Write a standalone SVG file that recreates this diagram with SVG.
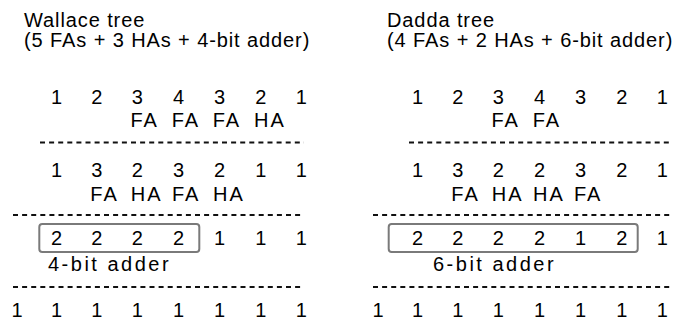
<svg xmlns="http://www.w3.org/2000/svg" width="674" height="322" viewBox="0 0 674 322">
  <style>
    text { font-family: "Liberation Sans", Arial, Helvetica, sans-serif; font-size: 20px; fill: #000; }
    .t { letter-spacing: 0.9px; }
    .d { text-anchor: middle; }
    .l { letter-spacing: 2px; }
    .a { letter-spacing: 2.5px; }
    .dash { stroke: #111; stroke-width: 1.8; stroke-dasharray: 5 4.1; fill: none; }
    .box { stroke: #7a7a7a; stroke-width: 2; fill: none; }
  </style>
  <rect width="674" height="322" fill="#fff"/>

  <g id="wallace">
    <g id="wallace-title">
      <text class="t" x="24" y="26.5">Wallace tree</text>
      <text class="t" x="24" y="47">(5 FAs + 3 HAs + 4-bit adder)</text>
    </g>
    <g id="wallace-row1" class="d">
      <text class="d" x="56.5" y="103.5">1</text>
      <text class="d" x="96.8" y="103.5">2</text>
      <text class="d" x="137.2" y="103.5">3</text>
      <text class="d" x="178.5" y="103.5">4</text>
      <text class="d" x="219.5" y="103.5">3</text>
      <text class="d" x="260.8" y="103.5">2</text>
      <text class="d" x="301.3" y="103.5">1</text>
    </g>
    <g id="wallace-ops1">
      <text class="l" x="130.4" y="126.5">FA</text>
      <text class="l" x="171.7" y="126.5">FA</text>
      <text class="l" x="212.7" y="126.5">FA</text>
      <text class="l" x="254" y="126.5">HA</text>
    </g>
    <g id="wallace-row2">
      <text class="d" x="56.5" y="176.5">1</text>
      <text class="d" x="96.8" y="176.5">3</text>
      <text class="d" x="137.2" y="176.5">2</text>
      <text class="d" x="178.5" y="176.5">3</text>
      <text class="d" x="219.5" y="176.5">2</text>
      <text class="d" x="260.8" y="176.5">1</text>
      <text class="d" x="301.3" y="176.5">1</text>
    </g>
    <g id="wallace-ops2">
      <text class="l" x="90.3" y="201">FA</text>
      <text class="l" x="130.7" y="201">HA</text>
      <text class="l" x="172" y="201">FA</text>
      <text class="l" x="213" y="201">HA</text>
    </g>
    <g id="wallace-adder">
      <rect class="box" x="39.3" y="224" width="160" height="28" rx="3"/>
      <text class="d" x="56.5" y="245">2</text>
      <text class="d" x="96.8" y="245">2</text>
      <text class="d" x="137.2" y="245">2</text>
      <text class="d" x="178.5" y="245">2</text>
      <text class="d" x="219.5" y="245">1</text>
      <text class="d" x="260.8" y="245">1</text>
      <text class="d" x="301.3" y="245">1</text>
      <text class="a" x="48" y="270.5">4-bit adder</text>
    </g>
    <g id="wallace-result">
      <text class="d" x="17" y="316.5">1</text>
      <text class="d" x="56.5" y="316.5">1</text>
      <text class="d" x="96.8" y="316.5">1</text>
      <text class="d" x="137.2" y="316.5">1</text>
      <text class="d" x="178.5" y="316.5">1</text>
      <text class="d" x="219.5" y="316.5">1</text>
      <text class="d" x="260.8" y="316.5">1</text>
      <text class="d" x="301.3" y="316.5">1</text>
    </g>
  </g>

  <g id="dadda">
    <g id="dadda-title">
      <text class="t" x="387" y="26.5">Dadda tree</text>
      <text class="t" x="387" y="47">(4 FAs + 2 HAs + 6-bit adder)</text>
    </g>
    <g id="dadda-row1">
      <text class="d" x="417.5" y="103.5">1</text>
      <text class="d" x="457.8" y="103.5">2</text>
      <text class="d" x="498.2" y="103.5">3</text>
      <text class="d" x="539.5" y="103.5">4</text>
      <text class="d" x="580.5" y="103.5">3</text>
      <text class="d" x="621.8" y="103.5">2</text>
      <text class="d" x="662.3" y="103.5">1</text>
    </g>
    <g id="dadda-ops1">
      <text class="l" x="491.4" y="126.5">FA</text>
      <text class="l" x="532.7" y="126.5">FA</text>
    </g>
    <g id="dadda-row2">
      <text class="d" x="417.5" y="176.5">1</text>
      <text class="d" x="457.8" y="176.5">3</text>
      <text class="d" x="498.2" y="176.5">2</text>
      <text class="d" x="539.5" y="176.5">2</text>
      <text class="d" x="580.5" y="176.5">3</text>
      <text class="d" x="621.8" y="176.5">2</text>
      <text class="d" x="662.3" y="176.5">1</text>
    </g>
    <g id="dadda-ops2">
      <text class="l" x="451.3" y="201">FA</text>
      <text class="l" x="491.7" y="201">HA</text>
      <text class="l" x="533" y="201">HA</text>
      <text class="l" x="574" y="201">FA</text>
    </g>
    <g id="dadda-adder">
      <rect class="box" x="388.7" y="224" width="249" height="28" rx="3"/>
      <text class="d" x="417.5" y="245">2</text>
      <text class="d" x="457.8" y="245">2</text>
      <text class="d" x="498.2" y="245">2</text>
      <text class="d" x="539.5" y="245">2</text>
      <text class="d" x="580.5" y="245">1</text>
      <text class="d" x="621.8" y="245">2</text>
      <text class="d" x="662.3" y="245">1</text>
      <text class="a" x="433" y="270.5">6-bit adder</text>
    </g>
    <g id="dadda-result">
      <text class="d" x="378" y="316.5">1</text>
      <text class="d" x="417.5" y="316.5">1</text>
      <text class="d" x="457.8" y="316.5">1</text>
      <text class="d" x="498.2" y="316.5">1</text>
      <text class="d" x="539.5" y="316.5">1</text>
      <text class="d" x="580.5" y="316.5">1</text>
      <text class="d" x="621.8" y="316.5">1</text>
      <text class="d" x="662.3" y="316.5">1</text>
    </g>
  </g>

  <g id="separators">
    <line class="dash" x1="40" y1="142.5" x2="304" y2="142.5"/>
    <line class="dash" x1="13" y1="215" x2="304" y2="215"/>
    <line class="dash" x1="13" y1="287" x2="304" y2="287"/>
    <line class="dash" x1="409" y1="142.5" x2="672" y2="142.5"/>
    <line class="dash" x1="373" y1="215" x2="672" y2="215"/>
    <line class="dash" x1="373" y1="287" x2="672" y2="287"/>
  </g>
</svg>
